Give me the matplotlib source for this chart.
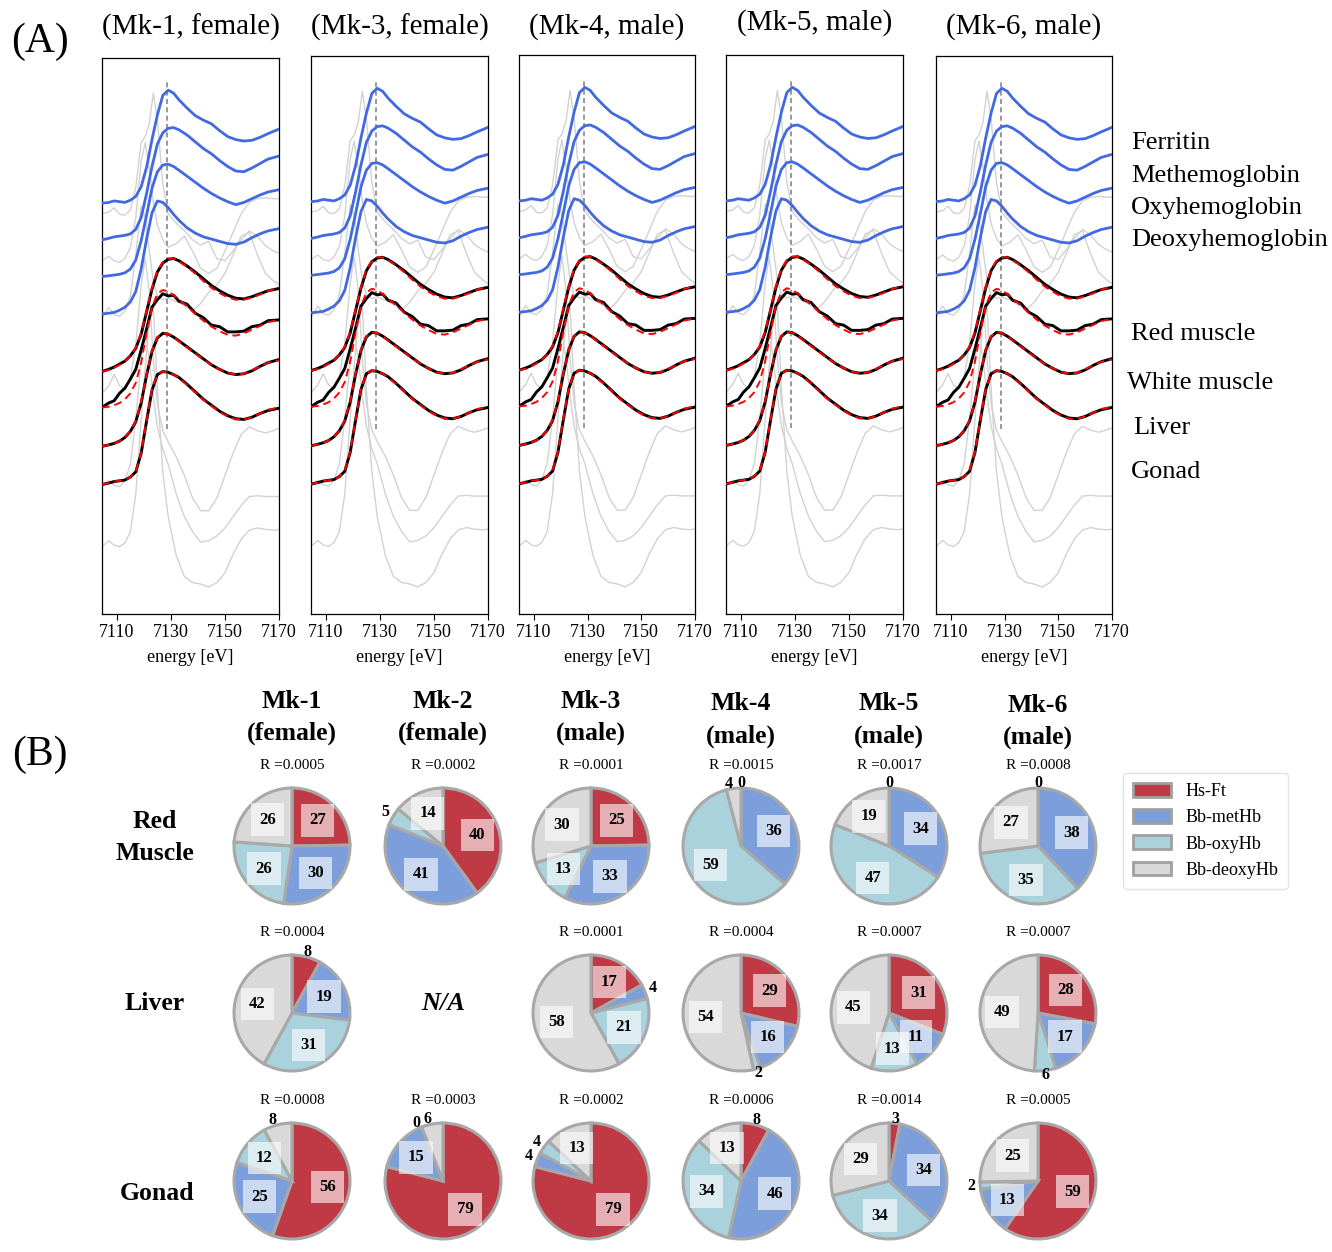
import numpy as np
import matplotlib
matplotlib.use('Agg')
import matplotlib.pyplot as plt
from matplotlib.patches import Patch

plt.rcParams['font.family'] = ['Liberation Serif', 'DejaVu Serif']

W, H = 1332, 1252

# ------------------------------------------------------------
# (A) XANES spectra, normalised absorption
# ------------------------------------------------------------
energy = [7104.5, 7107, 7109, 7111, 7113, 7115, 7117, 7119, 7121, 7123, 7125, 7127,
          7129, 7131, 7133, 7136, 7139, 7142, 7145, 7148, 7151, 7154, 7157, 7160,
          7163, 7166, 7170]

ferritin = [0.00, 0.01, 0.03, 0.02, 0.01, 0.04, 0.09, 0.22, 0.48, 0.85, 1.18, 1.44,
            1.51, 1.47, 1.38, 1.27, 1.17, 1.11, 1.06, 0.97, 0.89, 0.85, 0.83, 0.84,
            0.88, 0.93, 0.99]
methemo = [0.00, 0.02, 0.04, 0.05, 0.06, 0.08, 0.14, 0.30, 0.62, 0.98, 1.28, 1.43,
           1.49, 1.50, 1.47, 1.40, 1.31, 1.22, 1.15, 1.06, 0.98, 0.92, 0.91, 0.96,
           1.02, 1.08, 1.12]
oxyhemo = [0.00, 0.01, 0.02, 0.03, 0.05, 0.10, 0.22, 0.48, 0.82, 1.18, 1.40, 1.49,
           1.50, 1.47, 1.42, 1.34, 1.26, 1.18, 1.11, 1.05, 1.00, 0.96, 0.99, 1.04,
           1.09, 1.13, 1.16]
deoxyhemo = [0.00, 0.01, 0.02, 0.05, 0.09, 0.16, 0.30, 0.60, 1.00, 1.35, 1.51, 1.49,
             1.42, 1.33, 1.25, 1.15, 1.08, 1.03, 1.00, 0.97, 0.94, 0.93, 0.96, 1.02,
             1.07, 1.11, 1.14]

red_muscle = [0.00, 0.03, 0.06, 0.10, 0.14, 0.21, 0.31, 0.50, 0.80, 1.10, 1.33, 1.45,
              1.50, 1.51, 1.48, 1.41, 1.33, 1.24, 1.15, 1.08, 1.02, 0.98, 0.97, 1.00,
              1.04, 1.08, 1.11]
red_muscle_fit = [0.00, 0.02, 0.05, 0.09, 0.14, 0.21, 0.32, 0.52, 0.82, 1.12, 1.35, 1.46,
                  1.51, 1.51, 1.47, 1.40, 1.31, 1.21, 1.12, 1.05, 0.99, 0.96, 0.96, 0.99,
                  1.03, 1.08, 1.12]
white_muscle = [0.00, 0.06, 0.09, 0.19, 0.26, 0.38, 0.51, 0.77, 1.05, 1.34, 1.44, 1.52,
                1.49, 1.50, 1.42, 1.38, 1.26, 1.20, 1.10, 1.08, 1.01, 1.01, 1.02, 1.08,
                1.10, 1.16, 1.17]
white_muscle_fit = [0.00, 0.01, 0.03, 0.06, 0.11, 0.19, 0.33, 0.60, 0.99, 1.34, 1.52, 1.57,
                    1.55, 1.50, 1.44, 1.35, 1.25, 1.16, 1.08, 1.02, 0.97, 0.96, 0.99, 1.04,
                    1.09, 1.14, 1.17]
liver = [0.00, 0.02, 0.04, 0.07, 0.12, 0.20, 0.33, 0.58, 0.95, 1.27, 1.45, 1.51,
         1.50, 1.46, 1.41, 1.33, 1.25, 1.17, 1.09, 1.03, 0.98, 0.96, 0.97, 1.01,
         1.07, 1.12, 1.16]
liver_fit = [0.00, 0.02, 0.04, 0.07, 0.12, 0.20, 0.34, 0.59, 0.96, 1.28, 1.46, 1.51,
             1.50, 1.46, 1.40, 1.32, 1.24, 1.16, 1.09, 1.03, 0.98, 0.96, 0.97, 1.02,
             1.07, 1.12, 1.15]
gonad = [0.00, 0.02, 0.04, 0.05, 0.06, 0.10, 0.17, 0.42, 0.85, 1.26, 1.47, 1.51,
         1.50, 1.47, 1.43, 1.34, 1.24, 1.14, 1.06, 0.98, 0.92, 0.88, 0.87, 0.90,
         0.95, 0.99, 1.02]
gonad_fit = [0.00, 0.02, 0.04, 0.05, 0.06, 0.10, 0.18, 0.43, 0.86, 1.27, 1.47, 1.51,
             1.50, 1.47, 1.42, 1.33, 1.23, 1.13, 1.05, 0.97, 0.91, 0.87, 0.87, 0.90,
             0.95, 1.00, 1.03]

ref_spectra = [ferritin, methemo, oxyhemo, deoxyhemo]
ref_offsets = [5.49, 5.00, 4.51, 4.01]
tissue_spectra = [red_muscle, white_muscle, liver, gonad]
tissue_fits = [red_muscle_fit, white_muscle_fit, liver_fit, gonad_fit]
tissue_offsets = [3.24, 2.76, 2.24, 1.73]

# grey background traces (absolute, already stacked)
grey_energy = [7104.5, 7107, 7109, 7111, 7113, 7115, 7117, 7119, 7120.5, 7122, 7123.5,
               7125, 7127, 7129, 7132, 7135, 7138, 7141, 7144, 7147, 7150, 7153, 7156,
               7159, 7162, 7165, 7168, 7170]
grey_traces = [
    [5.35, 5.37, 5.43, 5.34, 5.33, 5.40, 5.70, 6.30, 6.38, 6.55, 6.96, 6.60, 5.75, 5.35,
     5.22, 5.12, 5.00, 4.93, 4.98, 4.75, 4.72, 4.85, 5.00, 5.12, 5.05, 4.92, 4.85, 4.82],
    [4.72, 4.78, 4.72, 4.70, 4.75, 4.90, 5.30, 6.05, 6.30, 5.95, 5.50, 5.20, 5.00, 4.90,
     4.95, 5.05, 4.85, 4.62, 4.55, 4.62, 4.85, 5.10, 5.35, 5.50, 5.55, 5.56, 5.55, 5.55],
    [3.95, 4.10, 4.00, 3.98, 4.05, 4.25, 4.80, 5.45, 5.30, 4.85, 4.45, 4.25, 4.20, 4.22,
     4.18, 4.12, 4.05, 4.15, 4.30, 4.40, 4.55, 4.80, 5.05, 5.10, 4.80, 4.55, 4.45, 4.40],
    [2.95, 3.05, 3.20, 3.05, 3.00, 3.15, 3.60, 4.40, 4.75, 4.30, 3.40, 2.80, 2.45, 2.30,
     2.10, 1.85, 1.55, 1.38, 1.38, 1.55, 1.85, 2.15, 2.40, 2.50, 2.45, 2.42, 2.45, 2.48],
    [1.70, 1.78, 1.72, 1.70, 1.78, 2.00, 2.60, 3.40, 3.70, 3.40, 2.90, 2.50, 2.20, 2.00,
     1.60, 1.30, 1.10, 0.96, 0.98, 1.04, 1.15, 1.30, 1.45, 1.57, 1.58, 1.57, 1.57, 1.57],
    [0.90, 0.98, 0.92, 0.90, 0.95, 1.10, 1.60, 2.60, 3.30, 3.90, 4.10, 3.00, 1.90, 1.30,
     0.78, 0.50, 0.42, 0.40, 0.36, 0.42, 0.55, 0.80, 1.00, 1.12, 1.15, 1.13, 1.12, 1.13],
]

panel_titles = ['(Mk-1, female)', '(Mk-3, female)', '(Mk-4, male)', '(Mk-5, male)', '(Mk-6, male)']
trace_names = ['Ferritin', 'Methemoglobin', 'Oxyhemoglobin', 'Deoxyhemoglobin',
               'Red muscle', 'White muscle', 'Liver', 'Gonad']
edge_energy = 7128.6

# ------------------------------------------------------------
# (B) linear-combination fit fractions (%)  [Hs-Ft, metHb, oxyHb, deoxyHb]
# ------------------------------------------------------------
specimens = ['Mk-1\n(female)', 'Mk-2\n(female)', 'Mk-3\n(male)', 'Mk-4\n(male)',
             'Mk-5\n(male)', 'Mk-6\n(male)']
tissues = ['Red\nMuscle', 'Liver', 'Gonad']
frac_red = [[27, 30, 26, 26], [40, 41, 5, 14], [25, 33, 13, 30],
            [0, 36, 59, 4], [0, 34, 47, 19], [0, 38, 35, 27]]
frac_liver = [[8, 19, 31, 42], None, [17, 4, 21, 58],
              [29, 16, 2, 54], [31, 11, 13, 45], [28, 17, 6, 49]]
frac_gonad = [[56, 25, 12, 8], [79, 15, 0, 6], [79, 4, 4, 13],
              [8, 46, 34, 13], [3, 34, 34, 29], [59, 13, 2, 25]]
r_red = ['0.0005', '0.0002', '0.0001', '0.0015', '0.0017', '0.0008']
r_liver = ['0.0004', None, '0.0001', '0.0004', '0.0007', '0.0007']
r_gonad = ['0.0008', '0.0003', '0.0002', '0.0006', '0.0014', '0.0005']
components = ['Hs-Ft', 'Bb-metHb', 'Bb-oxyHb', 'Bb-deoxyHb']
comp_colors = ['#C03A45', '#7C9FDC', '#A9D2DD', '#D9D9D9']

fig = plt.figure(figsize=(W / 100, H / 100), dpi=100)


def px_axes(x0, y0, x1, y1):
    return fig.add_axes([x0 / W, 1 - y1 / H, (x1 - x0) / W, (y1 - y0) / H])


# ---------------- Part A ----------------
panel_x = [(102, 279), (311, 488), (519, 695), (726, 903), (936, 1112)]
panel_top = [58, 56, 55, 55, 56]
title_y = [27, 27, 27, 23, 27]
for i, (x0, x1) in enumerate(panel_x):
    ax = px_axes(x0, panel_top[i], x1, 614)
    for g in grey_traces:
        ax.plot(grey_energy, g, color='#d2d2d2', lw=1.0, zorder=1)
    for s, off in zip(ref_spectra, ref_offsets):
        ax.plot(energy, np.array(s) + off, color='#4169E1', lw=2.0, zorder=3)
    for s, f, off in zip(tissue_spectra, tissue_fits, tissue_offsets):
        ax.plot(energy, np.array(s) + off, color='black', lw=2.1, zorder=3)
        ax.plot(energy, np.array(f) + off, color='red', lw=1.4, ls=(0, (4, 2.5)), zorder=4)
    ax.plot([edge_energy, edge_energy], [2.47, 7.13], color='#888888', lw=1.2,
            ls=(0, (3, 2)), zorder=2)
    ax.set_xlim(7104.5, 7170)
    ax.set_ylim(0, 7.43)
    ax.set_yticks([])
    ax.set_xticks([7110, 7130, 7150, 7170])
    ax.tick_params(axis='x', labelsize=13, length=4, width=0.8, pad=3)
    for sp in ax.spines.values():
        sp.set_linewidth(0.9)
    ax.set_xlabel('energy [eV]', fontsize=13, labelpad=6)
    fig.text((x0 + x1) / 2 / W, 1 - title_y[i] / H, panel_titles[i], fontsize=21,
             ha='center', va='center')

fig.text(40 / W, 1 - 42 / H, '(A)', fontsize=30, ha='center', va='center')
fig.text(40 / W, 1 - 755 / H, '(B)', fontsize=30, ha='center', va='center')

name_pos = [(1131, 143), (1131, 176), (1131, 208), (1131, 240),
            (1131, 334), (1127, 383), (1133, 428), (1131, 472)]
for name, (x, y) in zip(trace_names, name_pos):
    fig.text(x / W, 1 - y / H, name, fontsize=19, ha='left', va='center')

# ---------------- Part B ----------------
pie_cx = [292, 443, 591, 741, 889, 1038]
pie_cy = [846, 1013, 1181]
header_y = [(701, 733), (701, 733), (701, 733), (704, 736), (704, 736), (705, 737)]
row_label_pos = [(155, (821, 853)), (155, (1003,)), (157, (1193,))]
rad = 58
lim = 1.45

for j, (name, cx) in enumerate(zip(specimens, pie_cx)):
    for line, y in zip(name.split('\n'), header_y[j]):
        fig.text(cx / W, 1 - y / H, line, fontsize=18.5, fontweight='bold',
                 ha='center', va='center')

for (x, ys), name in zip(row_label_pos, tissues):
    for line, y in zip(name.split('\n'), ys):
        fig.text(x / W, 1 - y / H, line, fontsize=18.5, fontweight='bold',
                 ha='center', va='center')

rows = [(frac_red, r_red), (frac_liver, r_liver), (frac_gonad, r_gonad)]
for r, (fracs, rvals) in enumerate(rows):
    cy = pie_cy[r]
    for j, cx in enumerate(pie_cx):
        vals = fracs[j]
        if vals is None:
            fig.text(cx / W, 1 - (cy - 10) / H, 'N/A', fontsize=19, fontweight='bold',
                     fontstyle='italic', ha='center', va='center')
            continue
        ax = px_axes(cx - rad * lim, cy - rad * lim, cx + rad * lim, cy + rad * lim)
        ax.pie(vals, colors=comp_colors, startangle=90, counterclock=False, radius=1,
               wedgeprops=dict(edgecolor='#a8a8a8', linewidth=2.2))
        ax.set_xlim(-lim, lim)
        ax.set_ylim(-lim, lim)
        ax.set_aspect('equal')
        ax.axis('off')
        ax.text(0, 1.39, 'R =' + rvals[j], fontsize=11, ha='center', va='center')
        total = float(sum(vals))
        start = 90.0
        for v in vals:
            span = 360.0 * v / total
            mid = np.deg2rad(start - span / 2)
            if v > 9:
                ax.text(0.62 * np.cos(mid), 0.62 * np.sin(mid), str(v), fontsize=12,
                        fontweight='bold', ha='center', va='center',
                        bbox=dict(boxstyle='square,pad=0.5', fc='white', ec='none', alpha=0.6))
            else:
                near_top = abs(np.sin(mid)) > 0.85
                dist = 1.08 if near_top else 1.15
                ha = 'right' if (near_top and np.cos(mid) < -0.05) else 'center'
                ax.text(dist * np.cos(mid), dist * np.sin(mid), str(v), fontsize=11.5,
                        fontweight='bold', ha=ha, va='center')
            start -= span

handles = [Patch(facecolor=c, edgecolor='#a0a0a0', linewidth=2) for c in comp_colors]
leg = fig.legend(handles, components, loc='upper left',
                 bbox_to_anchor=(1123 / W, 1 - 773 / H), borderaxespad=0,
                 fontsize=13, frameon=True, handlelength=2.1, handleheight=0.8,
                 labelspacing=0.5, borderpad=0.55, handletextpad=0.8)
leg.get_frame().set_edgecolor('#dddddd')
leg.get_frame().set_linewidth(1.0)

fig.savefig('out.png', dpi=100)
